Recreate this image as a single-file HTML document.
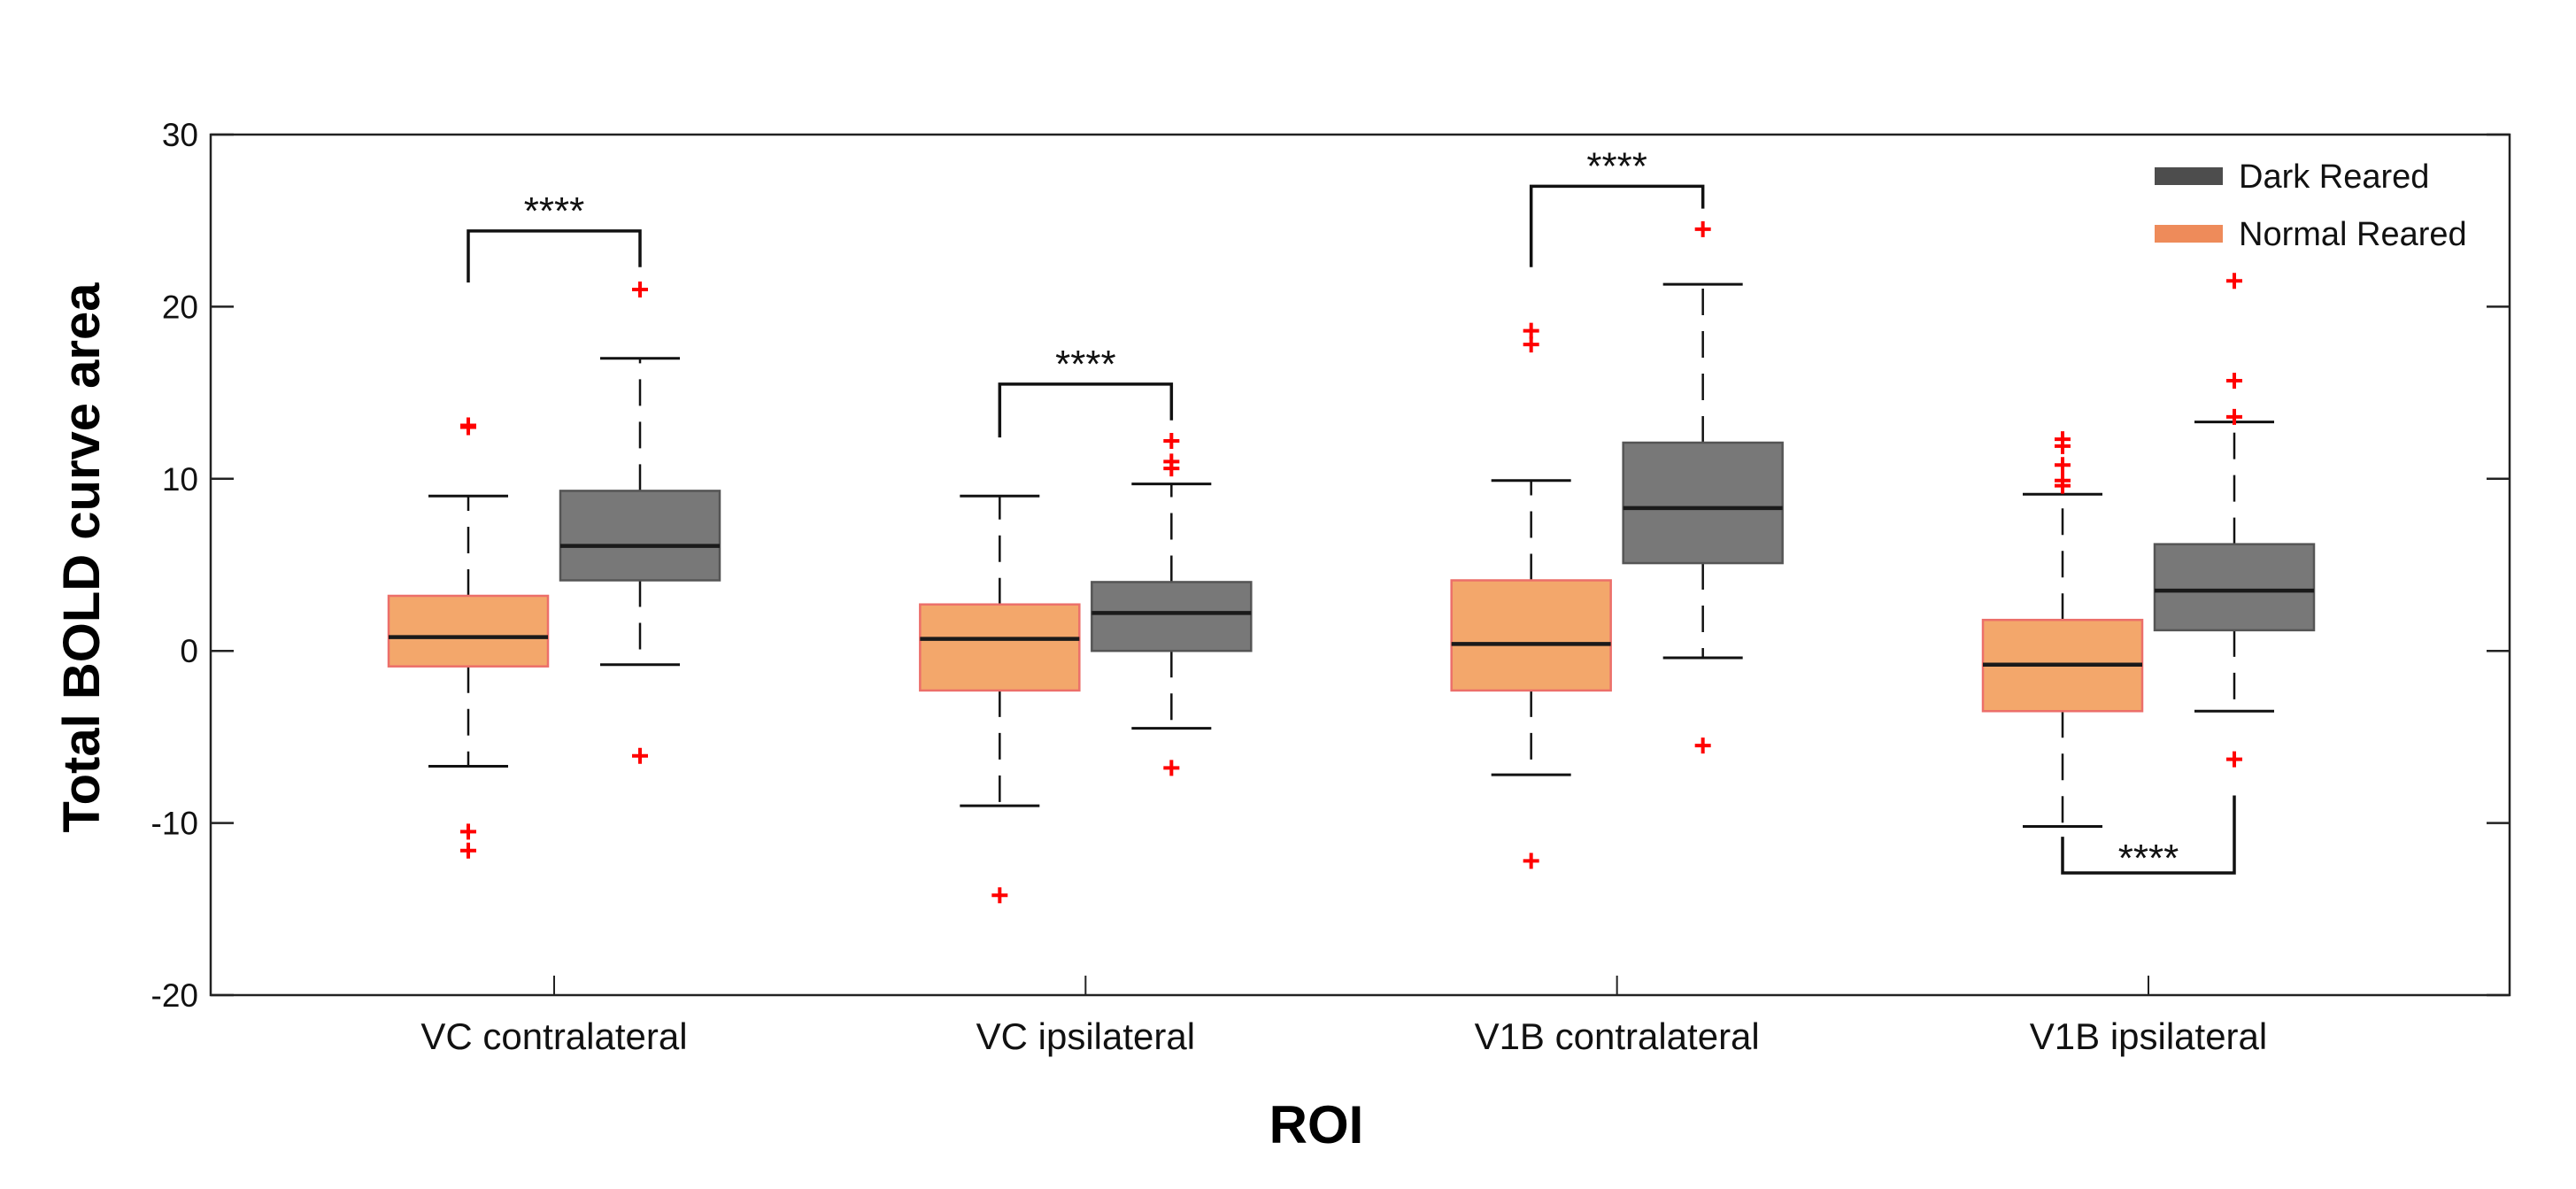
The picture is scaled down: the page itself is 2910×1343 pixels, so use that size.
<!DOCTYPE html>
<html><head><meta charset="utf-8"><style>
html,body{margin:0;padding:0;background:#fff;}
svg{display:block;font-family:"Liberation Sans",Arial,sans-serif;}
</style></head><body>
<svg id="chart" width="2910" height="1343" viewBox="0 0 2910 1343" xmlns="http://www.w3.org/2000/svg"></svg>
<script>
const categories = ["VC contralateral","VC ipsilateral","V1B contralateral","V1B ipsilateral"];
const groups = ["Normal Reared","Dark Reared"];
const yTicks = [-20,-10,0,10,20,30];
// [whiskerLow, q1, median, q3, whiskerHigh]
const normalStats = [[-6.7,-0.9,0.8,3.2,9.0],[-9.0,-2.3,0.7,2.7,9.0],[-7.2,-2.3,0.4,4.1,9.9],[-10.2,-3.5,-0.8,1.8,9.1]];
const darkStats = [[-0.8,4.1,6.1,9.3,17.0],[-4.5,0.0,2.2,4.0,9.7],[-0.4,5.1,8.3,12.1,21.3],[-3.5,1.2,3.5,6.2,13.3]];
const normalOutliers = [[13.0,13.1,-10.5,-11.6],[-14.2],[18.6,17.8,-12.2],[12.3,11.9,10.8,9.9,9.6]];
const darkOutliers = [[21.0,-6.1],[12.2,11.0,10.6,-6.8],[24.5,-5.5],[21.5,15.7,13.6,-6.3]];
// significance brackets: [bar level, normal-leg end, dark-leg end]
const sigBrackets = [[24.4,21.4,22.3],[15.5,12.4,13.4],[27.0,22.3,25.7],[-12.9,-10.8,-8.4]];
const sigLabels = ["****","****","****","****"];

const L=238,R=2835,T=152,B=1124;
const yMin=-20,yMax=30;
const y = v => B-(v-yMin)/(yMax-yMin)*(B-T);
const c0=626,c1=2427;
const xc = i => c0 + i*(c1-c0)/(categories.length-1);
const off=97, bw=180, capW=90;
const svg=document.getElementById('chart');
const NS="http://www.w3.org/2000/svg";
function mk(tag,attrs,parent){const e=document.createElementNS(NS,tag);for(const k in attrs)e.setAttribute(k,attrs[k]);(parent||svg).appendChild(e);return e;}

let ax=mk('rect',{x:L,y:T,width:R-L,height:B-T,fill:'none',stroke:'#222','stroke-width':2.5});


yTicks.forEach(t=>{
  const g=mk('g',{});
  
  
  mk('line',{x1:L,x2:L+26,y1:y(t),y2:y(t),stroke:'#222','stroke-width':2.5},g);
  mk('line',{x1:R-26,x2:R,y1:y(t),y2:y(t),stroke:'#222','stroke-width':2.5},g);
  const tx=mk('text',{x:L-14,y:y(t)+13,'text-anchor':'end','font-size':37,fill:'#111'},g);
  tx.textContent=t;
});
categories.forEach((c,i)=>{
  const g=mk('g',{});
  
  
  mk('line',{x1:xc(i),x2:xc(i),y1:B,y2:B-22,stroke:'#222','stroke-width':2},g);
  const tx=mk('text',{x:xc(i),y:1185,'text-anchor':'middle','font-size':42,fill:'#111'},g);
  tx.textContent=c;
});

function drawBox(i,stats,outs,isDark){
  const cx=xc(i)+(isDark?off:-off);
  const g=mk('g',{});
  
  
  const [wl,q1,md,q3,wh]=stats;
  mk('line',{x1:cx,x2:cx,y1:y(q3),y2:y(wh),stroke:'#111','stroke-width':2.5,'stroke-dasharray':'30,18'},g);
  mk('line',{x1:cx,x2:cx,y1:y(q1),y2:y(wl),stroke:'#111','stroke-width':2.5,'stroke-dasharray':'30,18'},g);
  mk('line',{x1:cx-capW/2,x2:cx+capW/2,y1:y(wh),y2:y(wh),stroke:'#111','stroke-width':3},g);
  mk('line',{x1:cx-capW/2,x2:cx+capW/2,y1:y(wl),y2:y(wl),stroke:'#111','stroke-width':3},g);
  mk('rect',{x:cx-bw/2,y:y(q3),width:bw,height:y(q1)-y(q3),fill:isDark?'#787878':'#f3a76b',stroke:isDark?'#555':'#ec6f6a','stroke-width':2.5},g);
  mk('line',{x1:cx-bw/2,x2:cx+bw/2,y1:y(md),y2:y(md),stroke:'#1a1a1a','stroke-width':4.5},g);
  outs.forEach(o=>{
    const p=mk('path',{d:`M${cx-9},${y(o)}h18M${cx},${y(o)-9}v18`,stroke:'#f00','stroke-width':4},g);
    
    
  });
}
categories.forEach((c,i)=>{drawBox(i,normalStats[i],normalOutliers[i],false);drawBox(i,darkStats[i],darkOutliers[i],true);});

sigBrackets.forEach((b,i)=>{
  const g=mk('g',{});
  
  
  const xa=xc(i)-off, xb=xc(i)+off;
  mk('path',{d:`M${xa},${y(b[1])}V${y(b[0])}H${xb}V${y(b[2])}`,fill:'none',stroke:'#111','stroke-width':3.5},g);
  const below=b[0]<b[1];
  const t=mk('text',{x:(xa+xb)/2,y:below?y(b[0])-2:y(b[0])-8,'text-anchor':'middle','font-size':44,fill:'#111'},g);
  t.textContent=sigLabels[i];
});

const lg=mk('g',{});


[["Dark Reared","#4d4d4d",199],["Normal Reared","#ee8b5a",264]].forEach(([n,col,yy])=>{
  const e=mk('g',{},lg);
  
  
  mk('rect',{x:2434,y:yy-10,width:77,height:20,fill:col},e);
  const t=mk('text',{x:2529,y:yy+13,'font-size':38,fill:'#111'},e);
  t.textContent=n;
});

const yl=mk('text',{x:0,y:0,transform:'translate(112,630) rotate(-90)','text-anchor':'middle','font-size':58,'font-weight':'bold',fill:'#000'});


yl.textContent='Total BOLD curve area';
const xl=mk('text',{x:1487,y:1291,'text-anchor':'middle','font-size':60,'font-weight':'bold',fill:'#000'});


xl.textContent='ROI';
</script>
</body></html>
